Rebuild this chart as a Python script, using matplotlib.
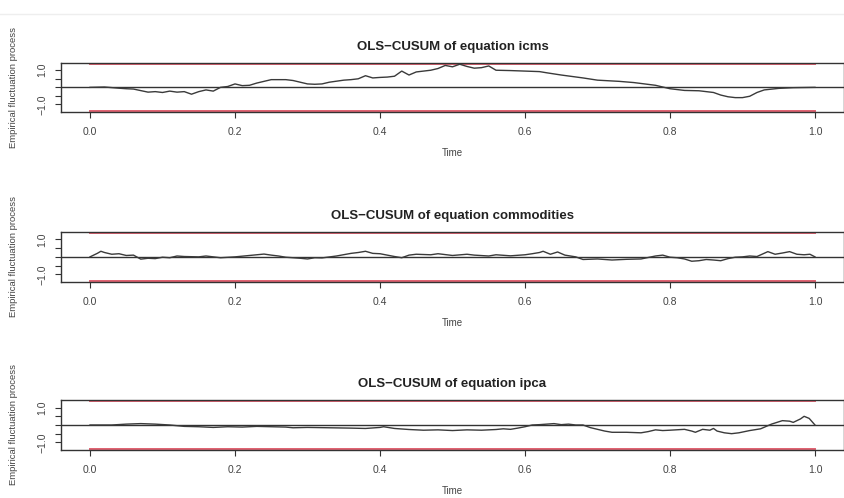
import matplotlib
matplotlib.use("Agg")
import matplotlib.pyplot as plt
from matplotlib.lines import Line2D

plt.rcParams["font.family"] = ["Liberation Sans", "DejaVu Sans"]

BOUND = 1.358  # 5% critical value of the OLS-CUSUM boundary
XTICKS = [0.0, 0.2, 0.4, 0.6, 0.8, 1.0]
XTICK_LABELS = ["0.0", "0.2", "0.4", "0.6", "0.8", "1.0"]
YTICKS = [-1.0, -0.5, 0.0, 0.5, 1.0]
YTICK_LABELS = ["\u22121.0", "", "", "", "1.0"]

# icms
t_icms = [0, .02, .04, .05, .06, .08, .09, .10, .11, .12, .13, .14, .15, .16, .17,
          .18, .19, .20, .21, .22, .23, .25, .27, .28, .29, .30, .31, .32, .33, .35,
          .36, .37, .38, .39, .40, .41, .42, .43, .44, .45, .46, .47, .48, .49, .50,
          .51, .52, .53, .54, .55, .56, .58, .60, .62, .63, .65, .68, .70, .73, .75,
          .78, .80, .82, .84, .86, .87, .88, .89, .90, .91, .92, .93, .95, .97, 1.0]
v_icms = [0.0, 0.02, -0.05, -0.08, -0.1, -0.28, -0.25, -0.3, -0.22, -0.28, -0.25, -0.4, -0.25, -0.15, -0.22,
          0.0, 0.05, 0.2, 0.1, 0.12, 0.25, 0.45, 0.45, 0.4, 0.3, 0.2, 0.18, 0.2, 0.3, 0.42,
          0.45, 0.5, 0.68, 0.55, 0.58, 0.6, 0.65, 0.95, 0.72, 0.9, 0.95, 1.0, 1.1, 1.28, 1.2,
          1.35, 1.22, 1.12, 1.15, 1.25, 1.0, 0.98, 0.95, 0.92, 0.85, 0.72, 0.55, 0.42, 0.35, 0.28,
          0.12, -0.08, -0.18, -0.2, -0.3, -0.45, -0.55, -0.6, -0.6, -0.52, -0.3, -0.15, -0.06, -0.02, 0.0]

# commodities
t_comm = [0, .01, .015, .02, .03, .04, .05, .06, .07, .08, .09, .10, .11, .12, .13,
          .15, .16, .18, .20, .22, .23, .24, .25, .26, .27, .28, .29, .30, .31, .32,
          .34, .36, .37, .38, .39, .40, .41, .42, .43, .44, .45, .47, .48, .50, .52,
          .53, .55, .56, .58, .60, .61, .62, .625, .635, .645, .655, .67, .68, .70, .72,
          .74, .76, .78, .79, .80, .81, .82, .83, .84, .85, .86, .87, .88, .89, .90,
          .91, .92, .935, .945, .955, .965, .975, .985, .993, 1.0]
v_comm = [0.0, 0.2, 0.32, 0.25, 0.15, 0.18, 0.08, 0.1, -0.13, -0.08, -0.1, -0.02, -0.05, 0.05, 0.02,
          0.0, 0.05, -0.05, 0.0, 0.08, 0.12, 0.16, 0.1, 0.05, -0.02, -0.05, -0.08, -0.12, -0.05, -0.06,
          0.05, 0.2, 0.25, 0.32, 0.2, 0.18, 0.1, 0.02, -0.05, 0.1, 0.15, 0.12, 0.18, 0.08, 0.15,
          0.1, 0.05, 0.12, 0.06, 0.12, 0.18, 0.25, 0.32, 0.15, 0.28, 0.1, 0.0, -0.15, -0.12, -0.18,
          -0.14, -0.12, 0.05, 0.1, -0.02, -0.05, -0.12, -0.25, -0.22, -0.15, -0.18, -0.22, -0.1, -0.02, 0.0,
          0.05, 0.02, 0.3, 0.15, 0.22, 0.3, 0.15, 0.12, 0.15, 0.0]

# ipca
t_ipca = [0, .03, .05, .07, .09, .11, .13, .15, .17, .19, .21, .23, .25, .27, .28,
          .30, .33, .36, .38, .40, .405, .42, .44, .46, .48, .50, .52, .54, .56, .57,
          .58, .59, .60, .61, .62, .63, .64, .65, .66, .67, .68, .69, .70, .71, .72,
          .74, .76, .77, .78, .79, .80, .82, .83, .835, .845, .855, .86, .865, .875, .885,
          .895, .91, .925, .94, .955, .965, .97, .98, .985, .992, 1.0]
v_ipca = [0.0, 0.0, 0.05, 0.08, 0.05, 0.0, -0.08, -0.1, -0.14, -0.1, -0.12, -0.08, -0.1, -0.12, -0.16,
          -0.14, -0.16, -0.18, -0.2, -0.14, -0.1, -0.2, -0.26, -0.3, -0.28, -0.32, -0.28, -0.3, -0.26, -0.22,
          -0.25, -0.18, -0.1, 0.0, 0.02, 0.05, 0.08, 0.02, 0.05, 0.0, 0.0, -0.15, -0.25, -0.35, -0.42,
          -0.42, -0.45, -0.38, -0.28, -0.32, -0.3, -0.25, -0.35, -0.42, -0.25, -0.3, -0.2, -0.35, -0.45, -0.5,
          -0.45, -0.32, -0.22, 0.05, 0.25, 0.22, 0.15, 0.35, 0.5, 0.38, 0.0]

panels = [("icms", t_icms, v_icms),
          ("commodities", t_comm, v_comm),
          ("ipca", t_ipca, v_ipca)]

# axes boxes in figure fraction (left, bottom, width, height)
boxes = [(0.0722, 0.7751, 0.9266, 0.0990),
         (0.0722, 0.4337, 0.9266, 0.1010),
         (0.0722, 0.0964, 0.9266, 0.1004)]

fig = plt.figure(figsize=(8.45, 4.98), dpi=100)

# faint line at top of the screenshot
fig.add_artist(Line2D([0, 1], [1 - 14 / 498] * 2, color="#eeeeee", lw=1.0))

for (name, t, v), box in zip(panels, boxes):
    ax = fig.add_axes(box)
    ax.plot([0, 1], [BOUND, BOUND], color="#E06070", lw=1.4)
    ax.plot([0, 1], [-BOUND, -BOUND], color="#E06070", lw=1.4)
    ax.axhline(0, color="#333333", lw=1.0)
    ax.plot(t, v, color="#3a3a3a", lw=1.0)

    ax.set_xlim(-0.04, 1.04)
    ax.set_ylim(-1.44, 1.44)
    ax.set_xticks(XTICKS)
    ax.set_xticklabels(XTICK_LABELS, fontsize=7.5, color="#444444")
    ax.set_yticks(YTICKS)
    ax.set_yticklabels(YTICK_LABELS, fontsize=7.5, rotation=90, va="center",
                       color="#444444")
    ax.tick_params(axis="x", length=4, width=0.8, pad=7, color="#333333")
    ax.tick_params(axis="y", length=4, width=0.8, pad=6, color="#333333")
    for s in ax.spines.values():
        s.set_linewidth(1.0)
        s.set_color("#333333")

    ax.set_title(f"OLS\u2212CUSUM of equation {name}", fontsize=9.5,
                 fontweight="bold", pad=9, color="#222222")
    ax.set_xlabel("Time", fontsize=7, labelpad=8, color="#444444")
    ax.set_ylabel("Empirical fluctuation process", fontsize=6.8, labelpad=14,
                  color="#444444")

fig.savefig("out.png", dpi=100)
